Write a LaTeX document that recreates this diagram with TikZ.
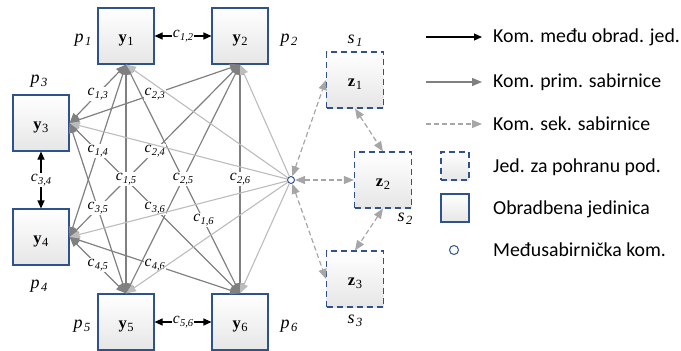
\documentclass[tikz,border=0pt]{standalone}
\usepackage{fontspec}
\setmainfont{Liberation Serif}
\newfontfamily\legendfont{Carlito}
\usetikzlibrary{arrows.meta}
\definecolor{boxblue}{RGB}{47,82,143}
\definecolor{primgray}{RGB}{128,128,128}
\definecolor{hubgray}{RGB}{188,188,188}
\definecolor{secgray}{RGB}{166,166,166}
\definecolor{boxbottom}{RGB}{230,230,230}
\newcommand{\cl}[1]{\textit{c}\kern0.3pt\raisebox{-3pt}{\fontsize{10.5}{10.5}\selectfont\itshape #1}}
\newcommand{\pl}[2]{\textit{#1}\kern1.5pt\raisebox{-3.5pt}{\fontsize{12.5}{12.5}\selectfont\itshape #2}}
\newcommand{\bl}[2]{\textbf{#1}\kern0.5pt\raisebox{-3pt}{\fontsize{12.5}{12.5}\selectfont #2}}
\tikzset{
  pbox/.style={draw=boxblue, line width=1.1pt, top color=white, bottom color=boxbottom,
    minimum width=56pt, minimum height=56pt, inner sep=0pt, text height=12pt, text depth=0pt,
    font=\fontsize{16.5}{16.5}\selectfont},
  sbox/.style={pbox, dash pattern=on 6pt off 4pt, minimum width=57pt, minimum height=56pt},
  legbox/.style={pbox, minimum width=28pt, minimum height=28pt},
  hubnode/.style={circle, draw=boxblue, line width=1pt, fill=white, inner sep=0pt, minimum size=7pt},
  tipg/.tip={Triangle[length=10pt,width=8pt]},
  tipb/.tip={Triangle[length=8pt,width=7pt]},
  prim/.style={draw=primgray, line width=1.2pt, tipg-tipg},
  hubline/.style={draw=hubgray, line width=1.1pt, -tipg},
  sec/.style={draw=secgray, line width=1.2pt, dash pattern=on 5pt off 3pt, tipg-tipg},
  direct/.style={draw=black, line width=1.1pt, tipb-tipb},
  clab/.style={fill=white, inner sep=0.8pt, font=\fontsize{15.5}{15.5}\selectfont},
  plab/.style={inner sep=0pt, font=\fontsize{18}{18}\selectfont},
  legtext/.style={anchor=west, inner sep=0pt, font=\legendfont\fontsize{19.8}{19.8}\selectfont},
}
\begin{document}
\begin{tikzpicture}[x=1pt,y=-1pt]
\useasboundingbox (0,0) rectangle (681,351);
% processing units
\node[pbox] (y1) at (126,36) {\bl{y}{1}};
\node[pbox] (y2) at (240,36) {\bl{y}{2}};
\node[pbox] (y3) at (41,123) {\bl{y}{3}};
\node[pbox] (y4) at (41,237) {\bl{y}{4}};
\node[pbox] (y5) at (126,322) {\bl{y}{5}};
\node[pbox] (y6) at (240,322) {\bl{y}{6}};
% storage units
\node[sbox] (z1) at (355,80) {\bl{z}{1}};
\node[sbox] (z2) at (383,180) {\bl{z}{2}};
\node[sbox] (z3) at (355,279) {\bl{z}{3}};
% hub
\node[hubnode] (h) at (291,180) {};
% primary bus connections
\draw[prim] (y1.south) -- (y3.east);
\draw[prim] (y1.south) -- (y4.east);
\draw[prim] (y1.south) -- (y5.north);
\draw[prim] (y1.south) -- (y6.north);
\draw[prim] (y2.south) -- (y3.east);
\draw[prim] (y2.south) -- (y4.east);
\draw[prim] (y2.south) -- (y5.north);
\draw[prim] (y2.south) -- (y6.north);
\draw[prim] (y3.east) -- (y5.north);
\draw[prim] (y3.east) -- (y6.north);
\draw[prim] (y4.east) -- (y5.north);
\draw[prim] (y4.east) -- (y6.north);
% direct connections
\draw[direct] (y1.east) -- (y2.west);
\draw[direct] (y3.south) -- (y4.north);
\draw[direct] (y5.east) -- (y6.west);
% secondary bus
\draw[sec] (h) -- (z1.west);
\draw[sec] (h) -- (z2.west);
\draw[sec] (h) -- (z3.west);
\draw[sec] (z1.south) -- (z2.north);
\draw[sec] (z2.south) -- (z3.north);
% labels of connections
\path (y1.south) -- (y3.east) node[clab,pos=0.5] {\cl{1,3}};
\path (y1.south) -- (y4.east) node[clab,pos=0.5] {\cl{1,4}};
\path (y1.south) -- (y5.north) node[clab,pos=0.5] {\cl{1,5}};
\path (y1.south) -- (y6.north) node[clab,pos=0.68] {\cl{1,6}};
\path (y2.south) -- (y3.east) node[clab,pos=0.5] {\cl{2,3}};
\path (y2.south) -- (y4.east) node[clab,pos=0.5] {\cl{2,4}};
\path (y2.south) -- (y5.north) node[clab,pos=0.5] {\cl{2,5}};
\path (y2.south) -- (y6.north) node[clab,pos=0.5] {\cl{2,6}};
\path (y3.east) -- (y5.north) node[clab,pos=0.5] {\cl{3,5}};
\path (y3.east) -- (y6.north) node[clab,pos=0.5] {\cl{3,6}};
\path (y4.east) -- (y5.north) node[clab,pos=0.5] {\cl{4,5}};
\path (y4.east) -- (y6.north) node[clab,pos=0.5] {\cl{4,6}};
\path (y1.east) -- (y2.west) node[clab,pos=0.5] {\cl{1,2}};
\path (y3.south) -- (y4.north) node[clab,pos=0.5] {\cl{3,4}};
\path (y5.east) -- (y6.west) node[clab,pos=0.5] {\cl{5,6}};
% hub lines
\draw[hubline] (h) -- (y1.south);
\draw[hubline] (h) -- (y2.south);
\draw[hubline] (h) -- (y3.east);
\draw[hubline] (h) -- (y4.east);
\draw[hubline] (h) -- (y5.north);
\draw[hubline] (h) -- (y6.north);
% unit labels
\node[plab] (p1) at (83,40) {\pl{p}{1}};
\node[plab] (p2) at (289,40) {\pl{p}{2}};
\node[plab] (p3) at (39,81) {\pl{p}{3}};
\node[plab] (p4) at (39,286) {\pl{p}{4}};
\node[plab] (p5) at (82,326) {\pl{p}{5}};
\node[plab] (p6) at (289,326) {\pl{p}{6}};
\node[plab] (s1) at (355,41) {\pl{s}{1}};
\node[plab] (s2) at (405,219) {\pl{s}{2}};
\node[plab] (s3) at (355,321) {\pl{s}{3}};
% legend
\coordinate (l1a) at (426,37); \coordinate (l1b) at (482,37);
\coordinate (l2a) at (426,82); \coordinate (l2b) at (482,82);
\coordinate (l3a) at (426,124); \coordinate (l3b) at (482,124);
\draw[draw=black, line width=1.1pt, -tipb] (l1a) -- (l1b);
\draw[draw=primgray, line width=1.2pt, -tipg] (l2a) -- (l2b);
\draw[draw=secgray, line width=1.2pt, dash pattern=on 5pt off 3pt, -tipg] (l3a) -- (l3b);
\node[legbox, dash pattern=on 6pt off 4pt] (lb1) at (455,166) {};
\node[legbox] (lb2) at (455,208) {};
\node[hubnode, minimum size=9pt] (lc) at (454,250) {};
\node[legtext] (t1) at (493,37) {Kom. među obrad. jed.};
\node[legtext] (t2) at (493,82) {Kom. prim. sabirnice};
\node[legtext] (t3) at (493,124) {Kom. sek. sabirnice};
\node[legtext] (t4) at (493,167) {Jed. za pohranu pod.};
\node[legtext] (t5) at (493,209) {Obradbena jedinica};
\node[legtext] (t6) at (493,250) {Međusabirnička kom.};
\end{tikzpicture}
\end{document}
